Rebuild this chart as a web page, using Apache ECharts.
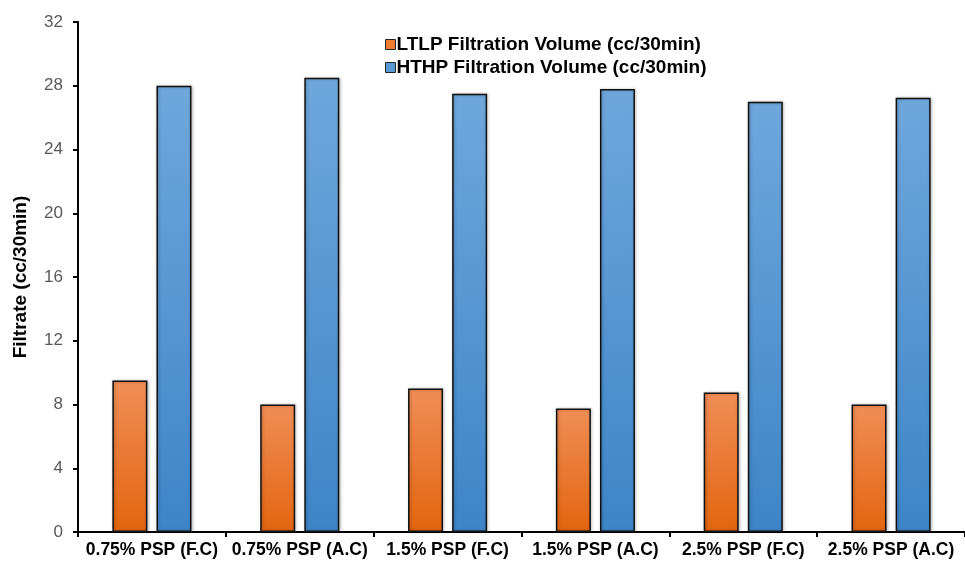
<!DOCTYPE html>
<html>
<head>
<meta charset="utf-8">
<script src="https://cdn.jsdelivr.net/npm/echarts@6/dist/echarts.min.js"></script>
<style>
  html, body { margin: 0; padding: 0; background: #fff; }
  #chart { width: 965px; height: 563px; }
</style>
</head>
<body>
<div id="chart"></div>
<script>
const categories = ['0.75% PSP (F.C)', '0.75% PSP (A.C)', '1.5% PSP (F.C)', '1.5% PSP (A.C)', '2.5% PSP (F.C)', '2.5% PSP (A.C)'];
const ltlpValues = [9.5, 8.0, 9.0, 7.75, 8.75, 8.0];
const hthpValues = [28.0, 28.5, 27.5, 27.8, 27.0, 27.25];
const yTicks = [0, 4, 8, 12, 16, 20, 24, 28, 32];

const font = 'Liberation Sans, Arial, sans-serif';

const orangeFill = new echarts.graphic.LinearGradient(0, 0, 0, 1, [
  { offset: 0, color: '#f08d56' },
  { offset: 1, color: '#e2650f' }
]);
const blueFill = new echarts.graphic.LinearGradient(0, 0, 0, 1, [
  { offset: 0, color: '#6fa7dc' },
  { offset: 1, color: '#3d85c8' }
]);

const chart = echarts.init(document.getElementById('chart'));

const barStyle = (fill) => ({
  color: fill,
  borderColor: '#111',
  borderWidth: 1.5,
  shadowColor: 'rgba(0,0,0,0.25)',
  shadowBlur: 3,
  shadowOffsetX: 1,
  shadowOffsetY: 0
});

const option = {
  backgroundColor: '#ffffff',
  animation: false,
  textStyle: { fontFamily: font },
  grid: { left: 78, top: 22, width: 891, height: 510, containLabel: false },
  legend: {
    orient: 'vertical',
    left: 380,
    top: 30,
    icon: 'rect',
    itemWidth: 10,
    itemHeight: 10,
    itemGap: 4,
    textStyle: { fontFamily: font, fontSize: 19, fontWeight: 'bold', color: '#000', padding: [0, 0, 0, -4] },
    data: [
      { name: 'LTLP Filtration Volume (cc/30min)', itemStyle: { color: '#ef7d31', borderColor: '#222', borderWidth: 1 } },
      { name: 'HTHP Filtration Volume (cc/30min)', itemStyle: { color: '#5b9bd5', borderColor: '#222', borderWidth: 1 } }
    ]
  },
  xAxis: {
    type: 'category',
    data: categories,
    boundaryGap: true,
    axisLine: { lineStyle: { color: '#000', width: 2 } },
    axisTick: { show: true, alignWithLabel: false, length: 5, lineStyle: { color: '#000', width: 2 } },
    axisLabel: { color: '#000', fontSize: 17.5, fontWeight: 'bold', fontFamily: font, margin: 9, interval: 0 },
    splitLine: { show: false }
  },
  yAxis: {
    type: 'value',
    min: yTicks[0],
    max: yTicks[yTicks.length - 1],
    interval: 4,
    name: 'Filtrate (cc/30min)',
    nameLocation: 'middle',
    nameGap: 48,
    nameTextStyle: { color: '#000', fontSize: 19, fontWeight: 'bold', fontFamily: font },
    axisLine: { show: true, lineStyle: { color: '#000', width: 2 } },
    axisTick: { show: true, length: 5, lineStyle: { color: '#000', width: 2 } },
    axisLabel: { color: '#595959', fontSize: 17, fontFamily: font, margin: 15 },
    splitLine: { show: false }
  },
  series: [
    {
      name: 'LTLP Filtration Volume (cc/30min)',
      type: 'bar',
      data: ltlpValues,
      barWidth: 35,
      barGap: '26%',
      itemStyle: barStyle(orangeFill)
    },
    {
      name: 'HTHP Filtration Volume (cc/30min)',
      type: 'bar',
      data: hthpValues,
      barWidth: 35,
      barGap: '26%',
      itemStyle: barStyle(blueFill)
    }
  ]
};

chart.setOption(option);
</script>
</body>
</html>
